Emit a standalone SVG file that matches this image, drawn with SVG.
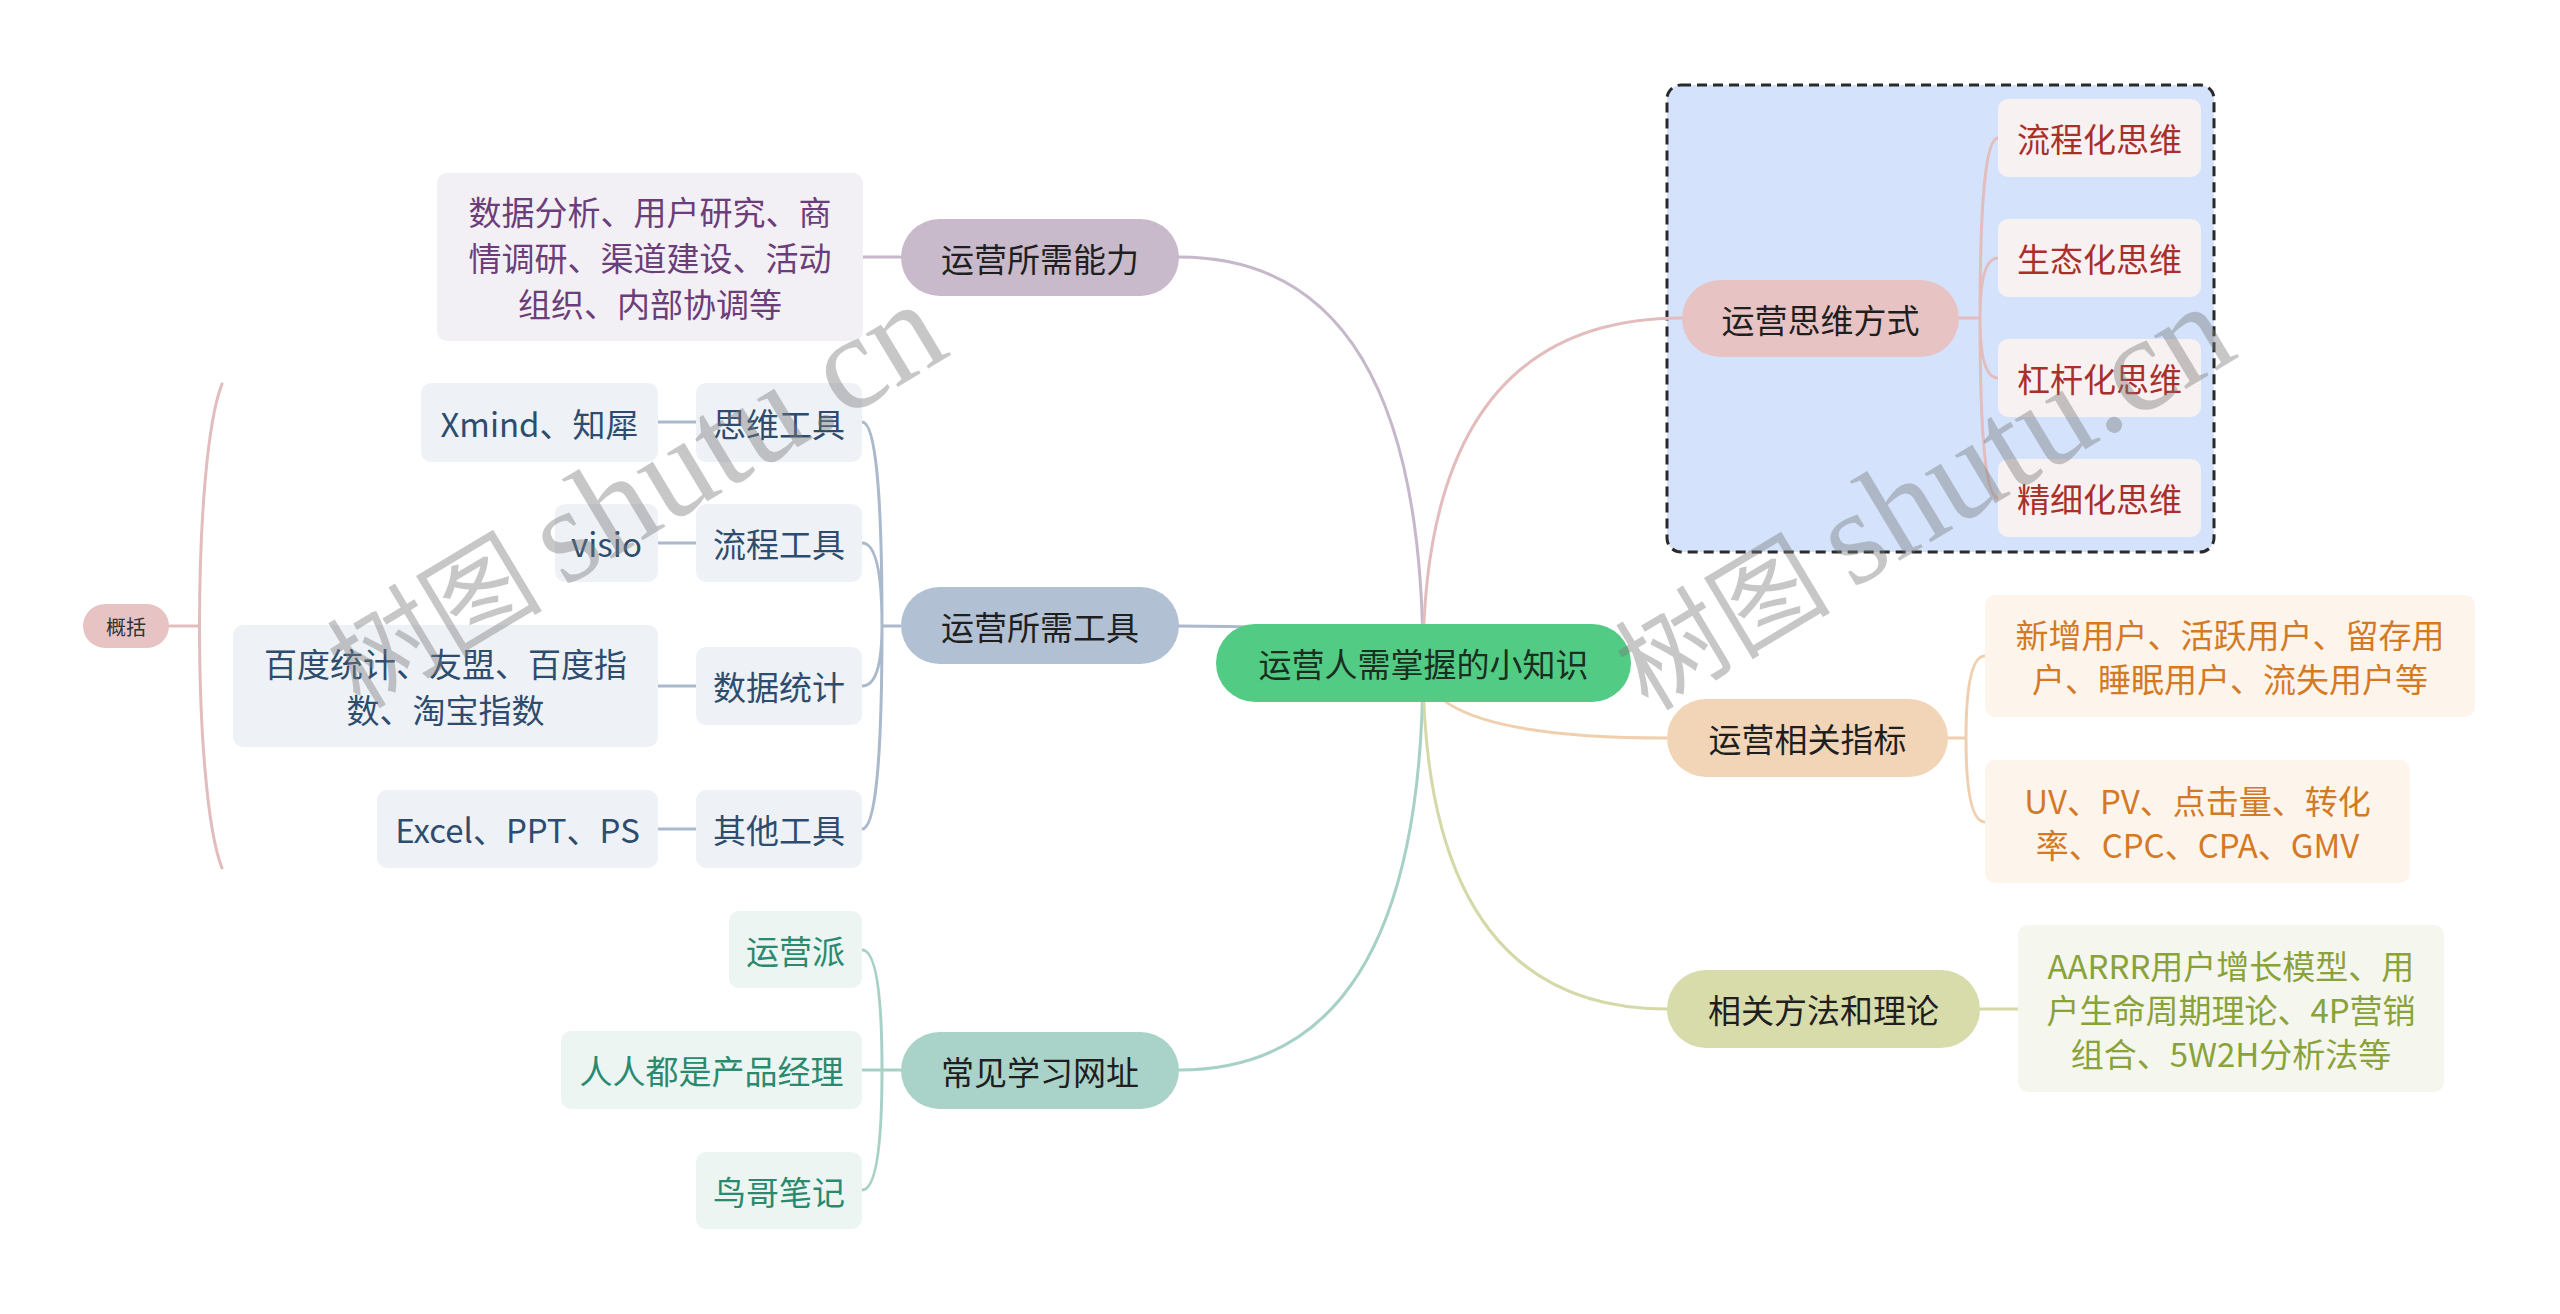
<svg xmlns="http://www.w3.org/2000/svg" width="2560" height="1314" viewBox="0 0 2560 1314">
<style>
text{font-family:"Noto Sans CJK SC","Noto Sans",sans-serif;font-size:33px;text-anchor:middle;dominant-baseline:central}
.main text{fill:#1f1f1f}
.c{fill:none;stroke-width:3;stroke-linecap:round}
.wm{font-family:"Liberation Serif","Noto Sans CJK SC",serif;fill:#7a7a7a;fill-opacity:0.42;text-anchor:start;dominant-baseline:alphabetic}
</style>
<rect width="2560" height="1314" fill="#ffffff"/>
<g id="boundary">
<rect x="1667" y="85" width="547" height="467" rx="14" fill="#d4e3fb" stroke="#2a2a2a" stroke-width="3" stroke-dasharray="10 6"/>
</g>
<g id="connectors">
<path class="c" stroke="#c6b8cb" d="M1423,663 Q1423,257 1179,257 M900,257 H863"/>
<path class="c" stroke="#aab9cb" d="M1423,663 Q1423,626 1179,626 M900,626 H882 M882,626 Q882,422 862,422 M882,626 Q882,543 862,543 M882,626 Q882,686 862,686 M882,626 Q882,829 862,829 M658,422 H696 M658,543 H696 M658,686 H696 M658,829 H696"/>
<path class="c" stroke="#a7d1c6" d="M1423,663 Q1423,1070 1179,1070 M901,1070 H862 M882,1070 Q882,950 862,950 M882,1070 Q882,1190 862,1190"/>
<path class="c" stroke="#e3bdbd" d="M1423,663 Q1423,318 1682,318 M1959,318 H1980 M1980,318 Q1980,138 1998,138 M1980,318 Q1980,258 1998,258 M1980,318 Q1980,378 1998,378 M1980,318 Q1980,498 1998,498"/>
<path class="c" stroke="#f0cfae" d="M1423,663 Q1423,738 1667,738 M1948,738 H1966 M1966,738 Q1966,656 1985,656 M1966,738 Q1966,822 1985,822"/>
<path class="c" stroke="#d5d9a8" d="M1423,663 Q1423,1009 1667,1009 M1980,1009 H2018"/>
<path class="c" stroke="#e3bdbd" d="M170,626 H199 M222,384 C192,460 192,792 222,868"/>
</g>
<g id="central" class="main">
<rect x="1216" y="624" width="415" height="78" rx="39" fill="#52cc84"/>
<text x="1423.5" y="663" style="fill:#1b2e22">运营人需掌握的小知识</text>
</g>
<g id="node-ability" class="main">
<rect x="901" y="219" width="278" height="77" rx="38.5" fill="#c8b9cb"/>
<text x="1040" y="257.5">运营所需能力</text>
</g>
<g id="node-ability-detail">
<rect x="437" y="173" width="426" height="168" rx="10" fill="#f3f0f5"/>
<text fill="#6b3d7a" x="650" y="211">数据分析、用户研究、商</text>
<text fill="#6b3d7a" x="650" y="257">情调研、渠道建设、活动</text>
<text fill="#6b3d7a" x="650" y="303">组织、内部协调等</text>
</g>
<g id="node-tools" class="main">
<rect x="901" y="587" width="278" height="77" rx="38.5" fill="#b1c0d2"/>
<text x="1040" y="625.5">运营所需工具</text>
</g>
<g id="node-tool-mind">
<rect x="696" y="383" width="166" height="79" rx="10" fill="#eef2f6"/>
<text fill="#2e4d6e" x="779" y="422.5">思维工具</text>
</g>
<g id="node-tool-mind-d">
<rect x="421" y="383" width="237" height="79" rx="10" fill="#eef2f6"/>
<text fill="#2e4d6e" x="539.5" y="422.5">Xmind、知犀</text>
</g>
<g id="node-tool-flow">
<rect x="696" y="504" width="166" height="78" rx="10" fill="#eef2f6"/>
<text fill="#2e4d6e" x="779" y="543">流程工具</text>
</g>
<g id="node-tool-flow-d">
<rect x="555" y="504" width="103" height="78" rx="10" fill="#eef2f6"/>
<text fill="#2e4d6e" x="606.5" y="543">visio</text>
</g>
<g id="node-tool-data">
<rect x="696" y="647" width="166" height="78" rx="10" fill="#eef2f6"/>
<text fill="#2e4d6e" x="779" y="686">数据统计</text>
</g>
<g id="node-tool-data-d">
<rect x="233" y="625" width="425" height="122" rx="10" fill="#eef2f6"/>
<text fill="#2e4d6e" x="445.5" y="663">百度统计、友盟、百度指</text>
<text fill="#2e4d6e" x="445.5" y="709">数、淘宝指数</text>
</g>
<g id="node-tool-other">
<rect x="696" y="790" width="166" height="78" rx="10" fill="#eef2f6"/>
<text fill="#2e4d6e" x="779" y="829">其他工具</text>
</g>
<g id="node-tool-other-d">
<rect x="377" y="790" width="281" height="78" rx="10" fill="#eef2f6"/>
<text fill="#2e4d6e" x="517.5" y="829">Excel、PPT、PS</text>
</g>
<g id="node-summary">
<rect x="83" y="604" width="86" height="44" rx="22" fill="#e8c3c3"/>
<text x="126" y="626" style="font-size:20px;fill:#333">概括</text>
</g>
<g id="node-sites" class="main">
<rect x="901" y="1032" width="278" height="77" rx="38.5" fill="#a9d3c8"/>
<text x="1040" y="1070.5">常见学习网址</text>
</g>
<g id="node-site-1">
<rect x="729" y="911" width="133" height="77" rx="10" fill="#edf5f3"/>
<text fill="#2a8a6e" x="795.5" y="949.5">运营派</text>
</g>
<g id="node-site-2">
<rect x="561" y="1031" width="301" height="78" rx="10" fill="#edf5f3"/>
<text fill="#2a8a6e" x="711.5" y="1070">人人都是产品经理</text>
</g>
<g id="node-site-3">
<rect x="696" y="1152" width="166" height="77" rx="10" fill="#edf5f3"/>
<text fill="#2a8a6e" x="779" y="1190.5">鸟哥笔记</text>
</g>
<g id="node-thinking" class="main">
<rect x="1682" y="280" width="277" height="77" rx="38.5" fill="#e8c3c3"/>
<text x="1820.5" y="318.5">运营思维方式</text>
</g>
<g id="node-think-1">
<rect x="1998" y="99" width="203" height="78" rx="10" fill="#f8f1f1"/>
<text fill="#a9302a" x="2099.5" y="138">流程化思维</text>
</g>
<g id="node-think-2">
<rect x="1998" y="219" width="203" height="78" rx="10" fill="#f8f1f1"/>
<text fill="#a9302a" x="2099.5" y="258">生态化思维</text>
</g>
<g id="node-think-3">
<rect x="1998" y="339" width="203" height="78" rx="10" fill="#f8f1f1"/>
<text fill="#a9302a" x="2099.5" y="378">杠杆化思维</text>
</g>
<g id="node-think-4">
<rect x="1998" y="459" width="203" height="78" rx="10" fill="#f8f1f1"/>
<text fill="#a9302a" x="2099.5" y="498">精细化思维</text>
</g>
<g id="node-metrics" class="main">
<rect x="1667" y="699" width="281" height="78" rx="39" fill="#f2d5b6"/>
<text x="1807.5" y="738">运营相关指标</text>
</g>
<g id="node-metric-1">
<rect x="1985" y="595" width="490" height="122" rx="10" fill="#fdf5ec"/>
<text fill="#d47a25" x="2230" y="634">新增用户、活跃用户、留存用</text>
<text fill="#d47a25" x="2230" y="678">户、睡眠用户、流失用户等</text>
</g>
<g id="node-metric-2">
<rect x="1985" y="760" width="425" height="123" rx="10" fill="#fdf5ec"/>
<text fill="#d47a25" x="2197.5" y="800">UV、PV、点击量、转化</text>
<text fill="#d47a25" x="2197.5" y="844">率、CPC、CPA、GMV</text>
</g>
<g id="node-methods" class="main">
<rect x="1667" y="970" width="313" height="78" rx="39" fill="#d8dcab"/>
<text x="1823.5" y="1009">相关方法和理论</text>
</g>
<g id="node-method-1">
<rect x="2018" y="925" width="426" height="167" rx="10" fill="#f5f6ee"/>
<text fill="#8aa23a" x="2231" y="965">AARRR用户增长模型、用</text>
<text fill="#8aa23a" x="2231" y="1009">户生命周期理论、4P营销</text>
<text fill="#8aa23a" x="2231" y="1053">组合、5W2H分析法等</text>
</g>
<g id="watermark">
<text class="wm" transform="translate(360,710) rotate(-31)"><tspan style="font-size:108px;font-family:'Noto Sans CJK SC',sans-serif">树图</tspan><tspan style="font-size:135px" dx="22">shutu.cn</tspan></text>
<text class="wm" transform="translate(1648,712) rotate(-31)"><tspan style="font-size:108px;font-family:'Noto Sans CJK SC',sans-serif">树图</tspan><tspan style="font-size:135px" dx="22">shutu.cn</tspan></text>
</g>
</svg>
